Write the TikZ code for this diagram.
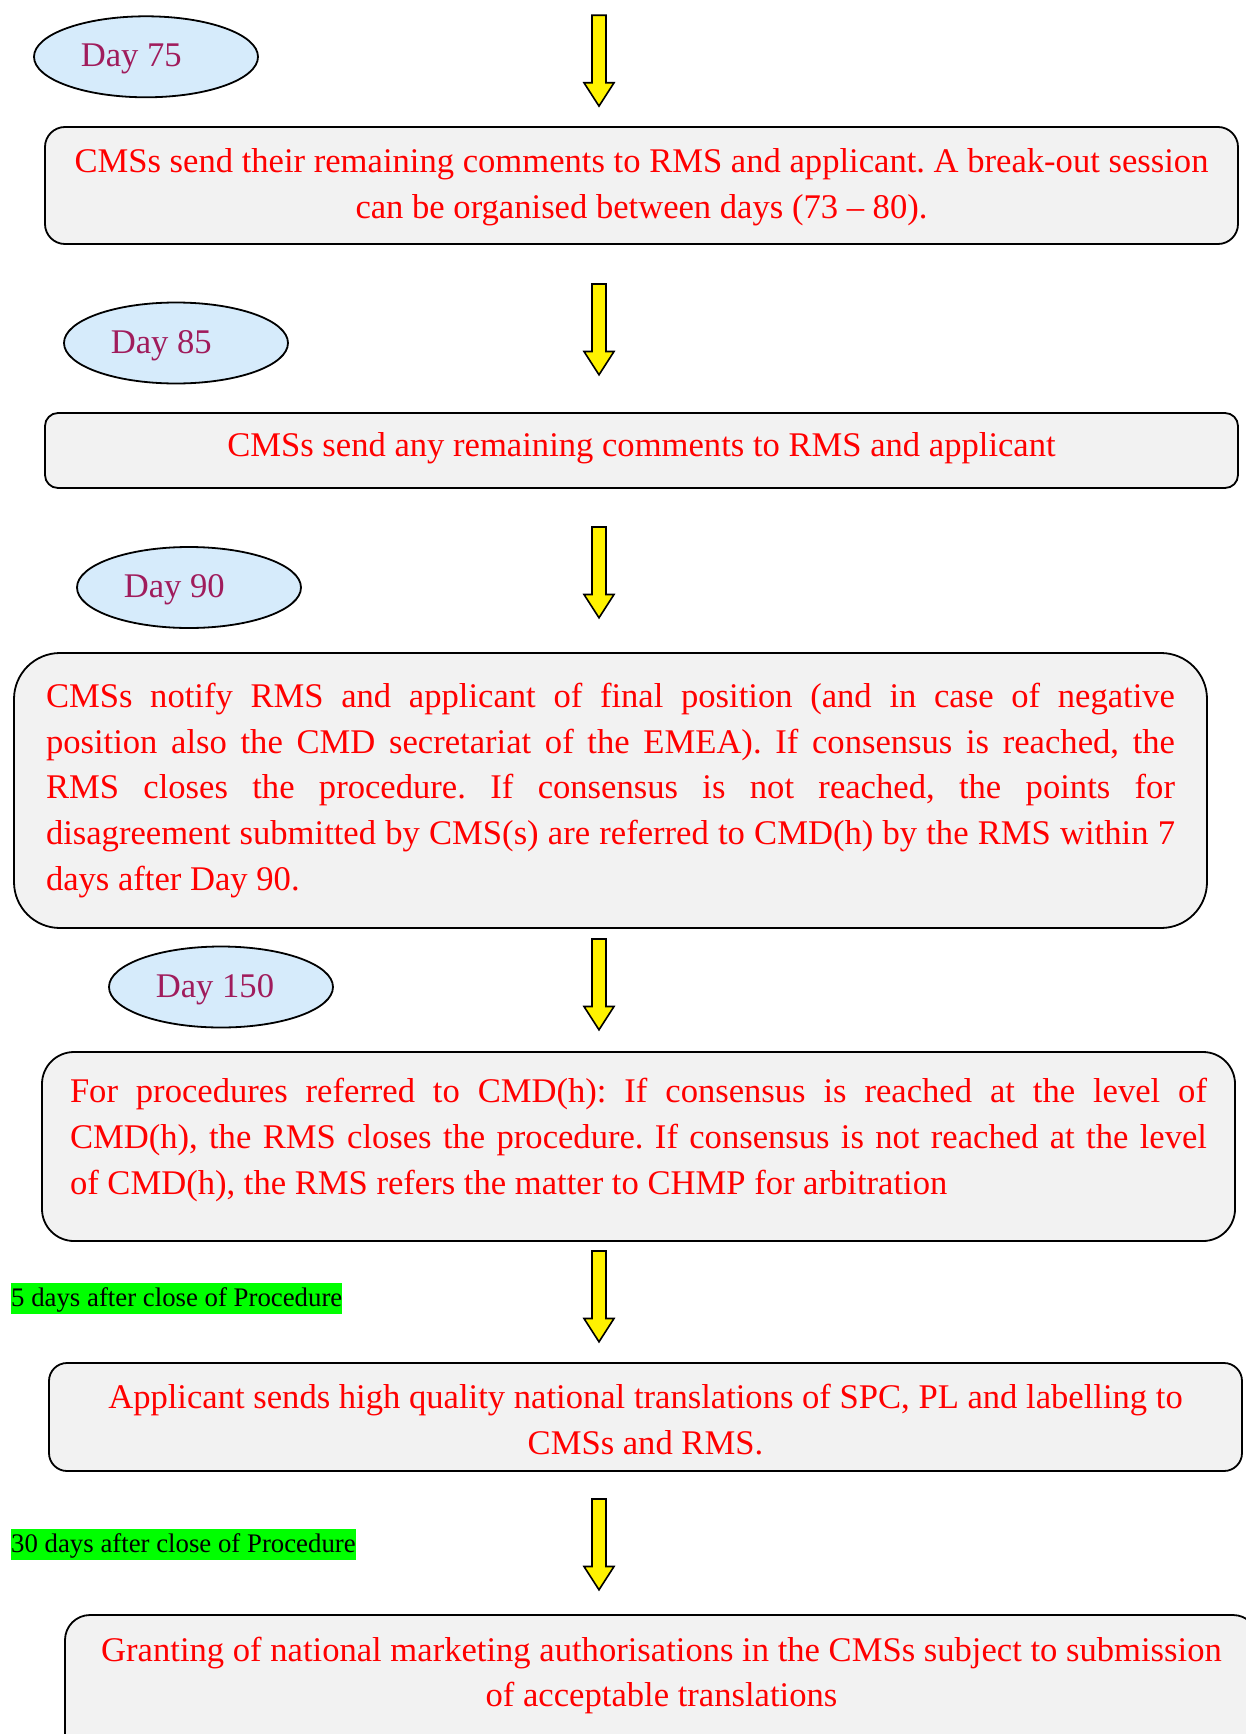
\documentclass[tikz,border=0pt]{standalone}
\usepackage{fontspec}
\setmainfont{Liberation Serif}
\usetikzlibrary{shapes.geometric,calc}
\definecolor{ellfill}{HTML}{D6EBFB}
\definecolor{daycol}{RGB}{160,28,92}
\definecolor{boxfill}{HTML}{F2F2F2}
\definecolor{hlgreen}{HTML}{00FF00}
\frenchspacing
\newcommand\mainsize{\fontsize{34.6pt}{45.7pt}\selectfont}
\newcommand\daysize{\fontsize{34.6pt}{45.7pt}\selectfont}
\newcommand\lblsize{\fontsize{26.8pt}{30pt}\selectfont}
\newcommand\jline[2]{\leavevmode\hbox to #1{#2}}
\newcommand\yarrow[1]{\draw[blkarrow] (#1) ++(-7,0) -- ++(14,0) -- ++(0,67.5) -- ++(8,0) -- ++(-15,23.3) -- ++(-15,-23.3) -- ++(8,0) -- cycle;}
\begin{document}
\begin{tikzpicture}[x=1pt,y=-1pt,
  dayell/.style={ellipse, draw=black, line width=1.8pt, fill=ellfill, minimum width=224pt, minimum height=81pt, inner sep=0pt},
  daytext/.style={anchor=base west, text=daycol, font=\daysize, inner sep=0pt},
  flowbox/.style={draw=black, line width=1.8pt, fill=boxfill, rectangle, inner sep=0pt, minimum width=1193pt},
  boxtext/.style={text=red, font=\mainsize, inner sep=0pt, anchor=base},
  blkarrow/.style={draw=black, line width=1.6pt, fill=yellow, line join=miter},
  greenlbl/.style={fill=hlgreen, anchor=base west, font=\lblsize, text=black, inner xsep=0pt, inner ysep=0pt, text height=23.7pt, text depth=7.3pt}
]
\useasboundingbox (0,0) rectangle (1246,1734);
\fill[white] (0,0) rectangle (1246,1734);
\clip (0,0) rectangle (1246,1734);

% arrows
\coordinate (a1) at (599,15.3);
\coordinate (a2) at (599,284);
\coordinate (a3) at (599,527);
\coordinate (a4) at (599,939);
\coordinate (a5) at (599,1251);
\coordinate (a6) at (599,1499);
\yarrow{a1}
\yarrow{a2}
\yarrow{a3}
\yarrow{a4}
\yarrow{a5}
\yarrow{a6}

% day ellipses
\node[dayell] (e75) at (146,56.8) {};
\node[daytext] (d75) at ($(e75.center)+(-65.3,10)$) {Day 75};
\node[dayell] (e85) at (176,343) {};
\node[daytext] (d85) at ($(e85.center)+(-65.3,10)$) {Day 85};
\node[dayell] (e90) at (189,587.5) {};
\node[daytext] (d90) at ($(e90.center)+(-65.3,10)$) {Day 90};
\node[dayell] (e150) at (221,987) {};
\node[daytext] (d150) at ($(e150.center)+(-65.3,10)$) {Day 150};

% boxes
\node[flowbox, rounded corners=20pt, minimum height=117pt] (b1) at (641.5,185.5) {};
\node[boxtext, text width=1193pt, align=flush center] (t1) at (641.5,172.7)
  {CMSs send their remaining comments to RMS and applicant. A break-out session\\can be organised between days (73 -- 80).};

\node[flowbox, rounded corners=13pt, minimum height=75pt] (b2) at (641.5,450.5) {};
\node[boxtext, text width=1193pt, align=flush center] (t2) at (641.5,456.5)
  {CMSs send any remaining comments to RMS and applicant};

\node[flowbox, rounded corners=46pt, minimum height=275pt] (b3) at (610.5,790.5) {};
\node[boxtext, text width=1129pt, align=flush left] (t3) at (610.5,707.3)
  {\jline{1129pt}{CMSs notify RMS and applicant of final position (and in case of negative}\\
   \jline{1129pt}{position also the CMD secretariat of the EMEA). If consensus is reached, the}\\
   \jline{1129pt}{RMS closes the procedure. If consensus is not reached, the points for}\\
   \jline{1129pt}{disagreement submitted by CMS(s) are referred to CMD(h) by the RMS within 7}\\
   days after Day 90.};

\node[flowbox, rounded corners=32pt, minimum height=189pt] (b4) at (638.5,1146.5) {};
\node[boxtext, text width=1137pt, align=flush left] (t4) at (638.5,1102.7)
  {\jline{1137pt}{For procedures referred to CMD(h): If consensus is reached at the level of}\\
   \jline{1137pt}{CMD(h), the RMS closes the procedure. If consensus is not reached at the level}\\
   of CMD(h), the RMS refers the matter to CHMP for arbitration};

\node[flowbox, rounded corners=18pt, minimum height=108pt] (b5) at (645.5,1417) {};
\node[boxtext, text width=1193pt, align=flush center] (t5) at (645.5,1408.3)
  {Applicant sends high quality national translations of SPC, PL and labelling to\\CMSs and RMS.};

\node[flowbox, rounded corners=25pt, minimum height=150pt] (b6) at (661.5,1690) {};
\node[boxtext, text width=1193pt, align=flush center] (t6) at (661.5,1661)
  {Granting of national marketing authorisations in the CMSs subject to submission\\of acceptable translations};

% green labels
\node[greenlbl] (g1) at (11,1306.7) {5 days after close of Procedure};
\node[greenlbl] (g2) at (11,1552.5) {30 days after close of Procedure};
\end{tikzpicture}
\end{document}
